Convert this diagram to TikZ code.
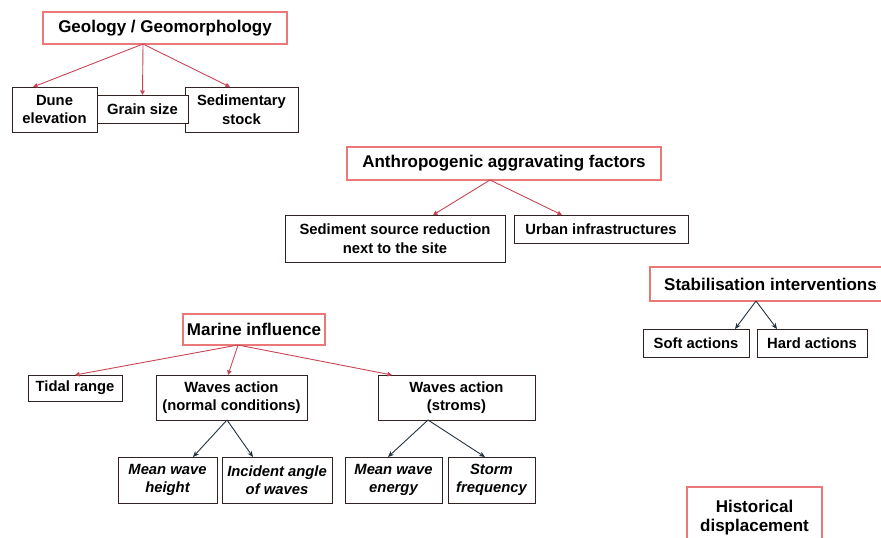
\documentclass[tikz,border=0pt]{standalone}
\usepackage{fontspec}
\setmainfont{Liberation Sans}
\usetikzlibrary{arrows.meta}
\definecolor{kopfrot}{RGB}{150,40,40}
\definecolor{kopfrosa}{RGB}{235,120,120}
\definecolor{pfeilrot}{RGB}{200,70,85}
\definecolor{pfeilgrau}{RGB}{35,50,60}
\definecolor{rahmen}{RGB}{50,35,35}

\begin{document}
\begin{tikzpicture}[x=1pt,y=-1pt,
	gr/.style 2 args={minimum width=#1, minimum height=#2},
	kopf/.style={draw=kopfrot, double=kopfrosa, line width=0.65pt, double distance=1.3pt, fill=white, inner sep=0pt, outer sep=0pt, align=center, font=\fontsize{17}{19.5}\selectfont\bfseries},
	kasten/.style={draw=rahmen, line width=1pt, fill=white, inner sep=0pt, outer sep=0pt, align=center, font=\fontsize{14.8}{18.5}\selectfont\bfseries},
	kursiv/.style={kasten, font=\fontsize{14.8}{18.5}\selectfont\bfseries\itshape},
	rotpfeil/.style={draw=pfeilrot, line width=0.9pt, -{Triangle[length=4.5pt,width=4.5pt]}},
	grauerpfeil/.style={draw=pfeilgrau, line width=0.9pt, -{Stealth[length=6pt,width=5pt]}}]
	
	\useasboundingbox (0,0) rectangle (881,538);
	\clip (0,0) rectangle (881,538);
	
	%Geologie
	\node[kopf, gr={244pt}{32pt}] (geo) at (165,28) {Geology / Geomorphology};
	\node[kasten, gr={85pt}{45pt}] (dune) at (54.5,109.5) {Dune\\elevation};
	\node[kasten, gr={113pt}{45pt}] (sed) at (241.5,109.5) {Sedimentary\\stock};
	\node[kasten, gr={91pt}{28pt}] (grain) at (142.5,109) {Grain size};
	
	%Anthropogene Faktoren
	\node[kopf, gr={314pt}{33pt}] (anth) at (504,163.5) {Anthropogenic aggravating factors};
	\node[kasten, gr={220pt}{47pt}] (ssr) at (395,238.5) {Sediment source reduction\\next to the site};
	\node[kasten, gr={174pt}{28pt}] (urban) at (601,229) {Urban infrastructures};
	
	%Mariner Einfluss
	\node[kopf, gr={142pt}{31pt}] (marine) at (254,329.5) {Marine influence};
	\node[kasten, gr={94pt}{26pt}] (tidal) at (75,388) {Tidal range};
	\node[kasten, gr={151pt}{45pt}] (wnorm) at (231.5,397.5) {Waves action\\(normal conditions)};
	\node[kasten, gr={157pt}{45pt}] (wstorm) at (456.5,397.5) {Waves action\\(stroms)};
	\node[kursiv, gr={99pt}{46pt}] (mwh) at (167.5,480) {Mean wave\\height};
	\node[kursiv, gr={110pt}{46pt}] (inc) at (277,480) {Incident angle\\of waves};
	\node[kursiv, gr={97pt}{46pt}] (mwe) at (393.5,480) {Mean wave\\energy};
	\node[kursiv, gr={87pt}{46pt}] (storm) at (491.5,480) {Storm\\frequency};
	
	%Stabilisierung
	\node[kopf, gr={241pt}{34pt}] (stab) at (770.5,284) {Stabilisation interventions};
	\node[kasten, gr={106pt}{28pt}] (soft) at (696,343) {Soft actions};
	\node[kasten, gr={110pt}{28pt}] (hard) at (812,343) {Hard actions};
	
	%Historische Verschiebung
	\node[kopf, gr={135pt}{61pt}] (hist) at (754.5,517.5) {Historical\\displacement};
	
	%Pfeile
	\begin{scope}
	\draw[rotpfeil] ([xshift=-22pt]geo.south) -- ([xshift=-21.5pt]dune.north);
	\draw[rotpfeil] ([xshift=-22pt]geo.south) -- (grain.north);
	\draw[rotpfeil] ([xshift=-22pt]geo.south) -- ([xshift=-11.5pt]sed.north);
	\draw[rotpfeil] ([xshift=-14pt]anth.south) -- ([xshift=38pt]ssr.north);
	\draw[rotpfeil] ([xshift=-14pt]anth.south) -- ([xshift=-39pt]urban.north);
	\draw[rotpfeil] ([xshift=-16pt]marine.south) -- (tidal.north);
	\draw[rotpfeil] ([xshift=-16pt]marine.south) -- ([xshift=-3.5pt]wnorm.north);
	\draw[rotpfeil] ([xshift=-16pt]marine.south) -- ([xshift=-64.5pt]wstorm.north);
	\end{scope}
	
	\begin{scope}
	\draw[grauerpfeil] ([xshift=-4.5pt]wnorm.south) -- ([xshift=25.5pt]mwh.north);
	\draw[grauerpfeil] ([xshift=-4.5pt]wnorm.south) -- ([xshift=-24pt]inc.north);
	\draw[grauerpfeil] ([xshift=-28.5pt]wstorm.south) -- ([xshift=-5.5pt]mwe.north);
	\draw[grauerpfeil] ([xshift=-28.5pt]wstorm.south) -- ([xshift=-6.5pt]storm.north);
	\draw[grauerpfeil] ([xshift=-14.5pt]stab.south) -- ([xshift=39pt]soft.north);
	\draw[grauerpfeil] ([xshift=-14.5pt]stab.south) -- ([xshift=-35pt]hard.north);
	\end{scope}
	
\end{tikzpicture}
\end{document}
